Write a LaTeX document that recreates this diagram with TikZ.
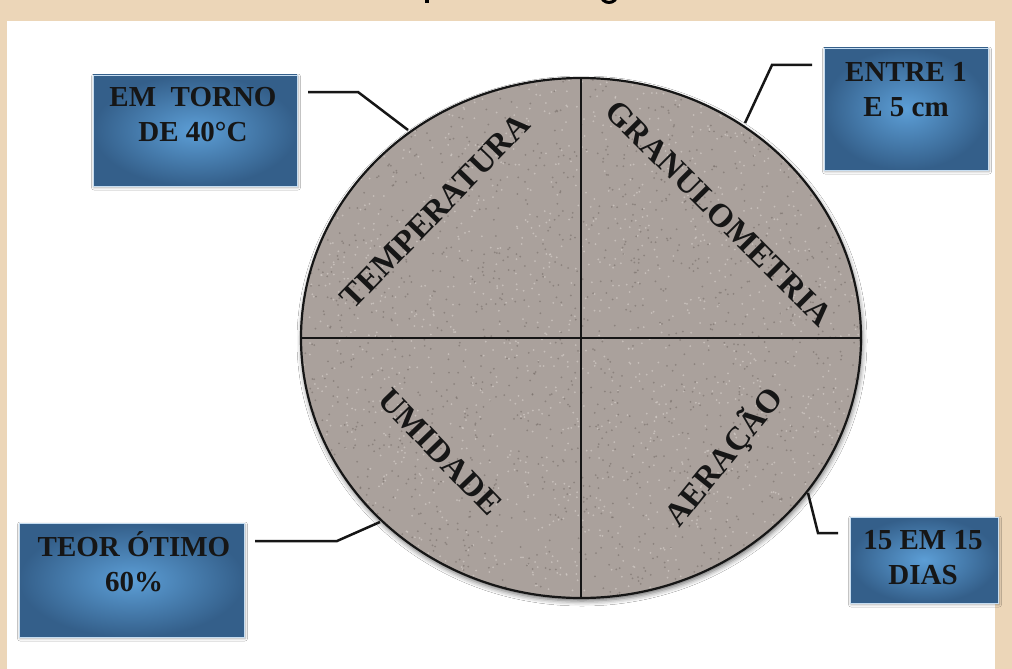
\documentclass[tikz,border=0pt]{standalone}
\usepackage{fontspec}
\setmainfont{Liberation Serif}
\usetikzlibrary{shadows.blur,calc}
\definecolor{beige}{RGB}{236,214,184}
\definecolor{stone}{RGB}{170,161,156}
\definecolor{stoneD}{RGB}{120,111,106}
\definecolor{stoneL}{RGB}{210,203,198}
\definecolor{boxdark}{RGB}{52,95,138}
\definecolor{boxlight}{RGB}{92,158,214}
\definecolor{ink}{RGB}{22,22,22}
\begin{document}
\begin{tikzpicture}[x=1pt,y=-1pt,
  bluebox/.style={draw=boxlight!35!white, line width=0.7pt, inner color=boxlight, outer color=boxdark,
     inner sep=0pt, blur shadow={shadow xshift=1pt, shadow yshift=-1.5pt, shadow blur radius=2.5pt, shadow opacity=35}},
  boxtext/.style={font=\fontsize{29}{35}\selectfont\bfseries, text=ink, align=center, inner sep=0pt},
  quadtext/.style={font=\fontsize{33}{36}\selectfont\bfseries, text=ink, inner sep=0pt},
  divider/.style={draw=ink, line width=2.6pt},
  connector/.style={draw=ink, line width=2.5pt}]
\useasboundingbox (0,0) rectangle (1012,669);
% background and frame
\fill[beige] (0,0) rectangle (1012,669);
\fill[white] (7,21) rectangle (995,669);
% fragments of the cut-off title
\fill[black] (425,0) rectangle (429,3.5);
\begin{scope}
  \clip (595,0) rectangle (625,4);
  \draw[black, line width=3pt] (609,-5) ellipse [x radius=8pt, y radius=7.5pt];
\end{scope}
% disc
\coordinate (ctr) at (581,338);
\fill[stone, blur shadow={shadow xshift=1pt, shadow yshift=-3pt, shadow blur radius=5pt, shadow opacity=60}]
  (ctr) ellipse [x radius=280pt, y radius=260pt];
\begin{scope}
  \clip (ctr) ellipse [x radius=280pt, y radius=260pt];
  \pgfmathsetseed{4242}
  \foreach \i in {1,...,3200}{
    \pgfmathsetmacro\xx{301+560*rnd}
    \pgfmathsetmacro\yy{78+520*rnd}
    \pgfmathtruncatemacro\cc{mod(\i,2)}
    \ifnum\cc=0
      \fill[stoneD, opacity=0.6] (\xx,\yy) circle (1pt);
    \else
      \fill[stoneL, opacity=0.7] (\xx,\yy) circle (1pt);
    \fi
  }
\end{scope}
\draw[ink, line width=2.2pt] (ctr) ellipse [x radius=280pt, y radius=260pt];
\coordinate (top) at (581,78);
\coordinate (bot) at (581,598);
\coordinate (lft) at (301,338);
\coordinate (rgt) at (861,338);
\draw[divider] (top) -- (bot);
\draw[divider] (lft) -- (rgt);
% quadrant labels
\node[quadtext, rotate=46] (qtemp) at (435,211) {TEMPERATURA};
\node[quadtext, rotate=-45] (qgran) at (719,213) {GRANULOMETRIA};
\node[quadtext, rotate=-46] (qumid) at (440,452) {UMIDADE};
\node[quadtext, rotate=51] (qaer) at (724,457) {AERAÇÃO};
% boxes
\node[bluebox, minimum width=204pt, minimum height=111pt] (b1) at (195,130.5) {};
\node[boxtext] (t1) at (193,114.5) {EM\ \ TORNO\\DE 40°C};
\node[bluebox, minimum width=164pt, minimum height=122pt] (b2) at (906,109) {};
\node[boxtext] (t2) at (906,89.5) {ENTRE 1\\E 5 cm};
\node[bluebox, minimum width=225pt, minimum height=114pt] (b3) at (131.5,580) {};
\node[boxtext] (t3) at (134,561.5) {TEOR ÓTIMO\\60\%};
\node[bluebox, minimum width=148pt, minimum height=86pt] (b4) at (924,560) {};
\node[boxtext] (t4) at (923,557.5) {15 EM 15\\DIAS};
% connectors
\coordinate (c1s) at (308,92);  \coordinate (c1b) at (358,92);  \coordinate (c1e) at (408,130);
\coordinate (c2s) at (812,65);  \coordinate (c2b) at (772,65);  \coordinate (c2e) at (745,123);
\coordinate (c3s) at (255,541); \coordinate (c3b) at (337,541); \coordinate (c3e) at (380,522);
\coordinate (c4s) at (838,533); \coordinate (c4b) at (818,533); \coordinate (c4e) at (808,493);
\draw[connector] (c1s) -- (c1b) -- (c1e);
\draw[connector] (c2s) -- (c2b) -- (c2e);
\draw[connector] (c3s) -- (c3b) -- (c3e);
\draw[connector] (c4s) -- (c4b) -- (c4e);
\end{tikzpicture}
\end{document}
